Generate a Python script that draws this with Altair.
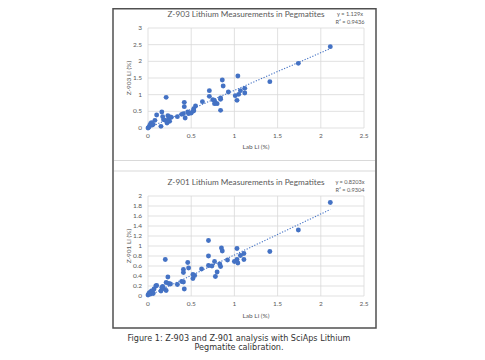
import altair as alt
import pandas as pd

# ---------------- data ----------------
title1 = "Z-903 Lithium Measurements in Pegmatites"
title2 = "Z-901 Lithium Measurements in Pegmatites"
eq1 = ["y = 1.129x", "R² = 0.9436"]
eq2 = ["y = 0.8203x", "R² = 0.9304"]
slope1 = 1.129
slope2 = 0.8203
caption = ["Figure 1: Z-903 and Z-901 analysis with SciAps Lithium", "Pegmatite calibration."]

lab1 = [2.11, 1.74, 1.41, 1.04, 1.12, 1.07, 1.12, 1.05, 1.01, 1.03, 0.93, 0.86, 0.87, 0.84, 0.84,
        0.84, 0.71, 0.71, 0.75, 0.77, 0.78, 0.80, 0.77, 0.63, 0.55, 0.53, 0.52, 0.47, 0.46, 0.42,
        0.42, 0.43, 0.41, 0.39, 0.34, 0.26, 0.25, 0.23, 0.22, 0.21, 0.20, 0.17, 0.16, 0.18, 0.15,
        0.10, 0.08, 0.05, 0.03, 0.02, 0.01, 0.00, 0.04, 0.06, 0.24, 0.27, 0.22, 0.50, 0.53]
z903 = [2.44, 1.94, 1.39, 1.56, 1.19, 1.12, 1.05, 1.01, 0.97, 0.83, 1.08, 1.44, 1.26, 0.90, 0.86,
        0.53, 1.12, 0.95, 0.85, 0.82, 0.75, 0.73, 0.73, 0.79, 0.66, 0.58, 0.50, 0.43, 0.48, 0.77,
        0.64, 0.30, 0.43, 0.41, 0.34, 0.33, 0.20, 0.37, 0.15, 0.92, 0.23, 0.34, 0.48, 0.25, 0.05,
        0.39, 0.23, 0.09, 0.13, 0.08, 0.02, 0.00, 0.16, 0.11, 0.28, 0.32, 0.20, 0.45, 0.52]

lab2 = [2.11, 1.74, 1.41, 1.03, 1.11, 1.07, 1.11, 1.03, 1.00, 1.04, 0.92, 0.85, 0.86, 0.83, 0.84,
        0.80, 0.78, 0.70, 0.70, 0.77, 0.70, 0.74, 0.62, 0.54, 0.52, 0.52, 0.46, 0.47, 0.41, 0.41,
        0.39, 0.41, 0.42, 0.34, 0.23, 0.21, 0.24, 0.26, 0.20, 0.21, 0.17, 0.16, 0.18, 0.15, 0.09,
        0.07, 0.05, 0.02, 0.03, 0.00, 0.04, 0.06, 0.01, 0.10]
z901 = [1.87, 1.32, 0.89, 0.95, 0.85, 0.81, 0.73, 0.73, 0.69, 0.66, 0.72, 0.96, 0.90, 0.64, 0.59,
        0.48, 0.39, 1.11, 0.80, 0.69, 0.61, 0.60, 0.54, 0.41, 0.43, 0.35, 0.67, 0.56, 0.53, 0.47,
        0.29, 0.28, 0.14, 0.23, 0.38, 0.27, 0.25, 0.24, 0.73, 0.11, 0.19, 0.17, 0.15, 0.10, 0.20,
        0.14, 0.09, 0.07, 0.04, 0.02, 0.10, 0.05, 0.05, 0.21]

x_ticks = [0, 0.5, 1, 1.5, 2, 2.5]
x_labels = ["0", "0.5", "1", "1.5", "2", "2.5"]
y1_ticks = [0, 0.5, 1, 1.5, 2, 2.5, 3]
y1_labels = ["0", "0.5", "1", "1.5", "2", "2.5", "3"]
y2_ticks = [0, 0.2, 0.4, 0.6, 0.8, 1.0, 1.2, 1.4, 1.6, 1.8, 2.0]
y2_labels = ["0", "0.2", "0.4", "0.6", "0.8", "1", "1.2", "1.4", "1.6", "1.8", "2"]

# ---------------- styling ----------------
BLUE = "#4472C4"
GRID = "#D9D9D9"
TXT = "#595959"
FONT = "Lato"

xs = alt.Scale(domain=[0, 2.5], range=[140, 356], nice=False, zero=False)
ys1 = alt.Scale(domain=[0, 3], range=[120, 20], nice=False, zero=False)
ys2 = alt.Scale(domain=[0, 2], range=[288, 188], nice=False, zero=False)


def panel(lab, meas, slope, ys, yticks, ylabels, ymax, title, eq, ytitle, ytop_px, ycenter_px, xtitle_px):
    layers = []
    vg = pd.DataFrame({"t": x_ticks, "lo": 0.0, "hi": float(ymax)})
    layers.append(alt.Chart(vg).mark_rule(color=GRID, strokeWidth=0.8).encode(
        x=alt.X("t:Q", scale=xs, axis=None),
        y=alt.Y("lo:Q", scale=ys, axis=None), y2="hi:Q"))
    hg = pd.DataFrame({"t": yticks, "lo": 0.0, "hi": 2.5})
    layers.append(alt.Chart(hg).mark_rule(color=GRID, strokeWidth=0.8).encode(
        y=alt.Y("t:Q", scale=ys, axis=None),
        x=alt.X("lo:Q", scale=xs, axis=None), x2="hi:Q"))
    yl = pd.DataFrame({"t": yticks, "lab": ylabels, "lo": 0.0})
    layers.append(alt.Chart(yl).mark_text(align="right", baseline="middle", dx=-6, fontSize=6.5,
                                          font=FONT, color=TXT).encode(
        x=alt.X("lo:Q", scale=xs, axis=None), y=alt.Y("t:Q", scale=ys, axis=None), text="lab:N"))
    xl = pd.DataFrame({"t": x_ticks, "lab": x_labels, "lo": 0.0})
    layers.append(alt.Chart(xl).mark_text(align="center", baseline="middle", dy=8, fontSize=6.5,
                                          font=FONT, color=TXT).encode(
        x=alt.X("t:Q", scale=xs, axis=None), y=alt.Y("lo:Q", scale=ys, axis=None), text="lab:N"))
    pts = pd.DataFrame({"lab": lab, "meas": meas})
    layers.append(alt.Chart(pts).mark_circle(color=BLUE, size=24, opacity=1).encode(
        x=alt.X("lab:Q", scale=xs, axis=None), y=alt.Y("meas:Q", scale=ys, axis=None)))
    xmax = max(lab)
    tl = pd.DataFrame({"x": [min(lab), xmax], "y": [slope * min(lab), slope * xmax]})
    layers.append(alt.Chart(tl).mark_line(color=BLUE, strokeWidth=1.1, strokeDash=[1.2, 1.6]).encode(
        x=alt.X("x:Q", scale=xs, axis=None), y=alt.Y("y:Q", scale=ys, axis=None)))
    tdf = pd.DataFrame({"t": [title]})
    layers.append(alt.Chart(tdf).mark_text(align="center", baseline="middle", fontSize=8.2,
                                           font=FONT, color=TXT).encode(
        x=alt.value(238), y=alt.value(ytop_px), text="t:N"))
    e1 = pd.DataFrame({"t": [eq[0]]})
    layers.append(alt.Chart(e1).mark_text(align="center", baseline="middle", fontSize=5.6,
                                          font=FONT, color=TXT).encode(
        x=alt.value(342), y=alt.value(ytop_px - 1), text="t:N"))
    e2 = pd.DataFrame({"t": [eq[1]]})
    layers.append(alt.Chart(e2).mark_text(align="center", baseline="middle", fontSize=5.6,
                                          font=FONT, color=TXT).encode(
        x=alt.value(342), y=alt.value(ytop_px + 6.5), text="t:N"))
    yt = pd.DataFrame({"t": [ytitle]})
    layers.append(alt.Chart(yt).mark_text(align="center", baseline="middle", angle=270, fontSize=6.5,
                                          font=FONT, color=TXT).encode(
        x=alt.value(121), y=alt.value(ycenter_px), text="t:N"))
    xt = pd.DataFrame({"t": ["Lab Li (%)"]})
    layers.append(alt.Chart(xt).mark_text(align="center", baseline="middle", fontSize=6.5,
                                          font=FONT, color=TXT).encode(
        x=alt.value(248), y=alt.value(xtitle_px), text="t:N"))
    return layers


one = pd.DataFrame({"k": [0]})
frame = alt.Chart(one).mark_rect(fill="white", stroke="#505050", strokeWidth=1.5).encode(
    x=alt.value(105), x2=alt.value(368), y=alt.value(0.75), y2=alt.value(320))
sep_a = alt.Chart(one).mark_rule(color=GRID, strokeWidth=1).encode(
    x=alt.value(106), x2=alt.value(367), y=alt.value(152.5))
sep_b = alt.Chart(one).mark_rule(color=GRID, strokeWidth=1).encode(
    x=alt.value(106), x2=alt.value(367), y=alt.value(163))

cap1 = alt.Chart(pd.DataFrame({"t": [caption[0]]})).mark_text(
    align="center", baseline="middle", fontSize=8.1, font="DejaVu Sans", color="#333333").encode(
    x=alt.value(231), y=alt.value(330.5), text="t:N")
cap2 = alt.Chart(pd.DataFrame({"t": [caption[1]]})).mark_text(
    align="center", baseline="middle", fontSize=8.1, font="DejaVu Sans", color="#333333").encode(
    x=alt.value(231), y=alt.value(339.5), text="t:N")

layers = [frame, sep_a, sep_b]
layers += panel(lab1, z903, slope1, ys1, y1_ticks, y1_labels, 3, title1, eq1, "Z-903 Li (%)", 7, 70, 139)
layers += panel(lab2, z901, slope2, ys2, y2_ticks, y2_labels, 2, title2, eq2, "Z-901 Li (%)", 175, 238, 308)
layers += [cap1, cap2]

chart = alt.layer(*layers).resolve_scale(y="independent").properties(
    width=469, height=344, padding=0,
    autosize=alt.AutoSizeParams(type="none"),
    background="white",
).configure_view(stroke=None)

chart.save("out.html", embed_options={"renderer": "svg", "actions": False})
